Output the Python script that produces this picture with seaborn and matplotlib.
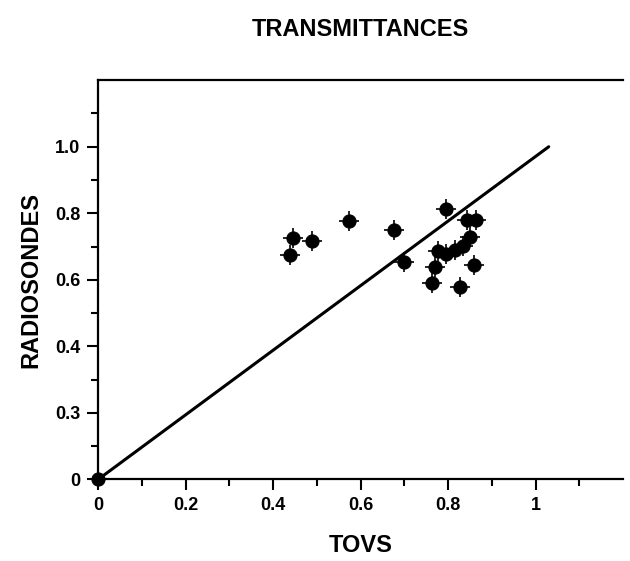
import numpy as np
import pandas as pd
import matplotlib
matplotlib.use("Agg")
import matplotlib.pyplot as plt
import seaborn as sns

# data
tovs = [0.0, 0.445, 0.438, 0.488, 0.573, 0.676, 0.699, 0.795, 0.843, 0.863,
        0.850, 0.834, 0.815, 0.795, 0.776, 0.770, 0.763, 0.827, 0.859]
radiosondes = [0.0, 0.727, 0.674, 0.716, 0.776, 0.749, 0.653, 0.812, 0.779, 0.779,
               0.728, 0.701, 0.689, 0.677, 0.686, 0.638, 0.590, 0.578, 0.644]
line_x = [0.0, 1.03]
line_y = [0.0, 1.0]
xticks = [0, 0.2, 0.4, 0.6, 0.8, 1.0]
xtick_labels = ["0", "0.2", "0.4", "0.6", "0.8", "1"]
yticks = [0, 0.2, 0.4, 0.6, 0.8, 1.0]
ytick_labels = ["0", "0.3", "0.4", "0.6", "0.8", "1.0"]

data = pd.DataFrame({"TOVS": tovs, "RADIOSONDES": radiosondes})

sns.set_style("ticks")
plt.rcParams['font.family'] = ['Liberation Sans', 'DejaVu Sans']
plt.rcParams['font.weight'] = 'bold'
plt.rcParams['text.color'] = 'black'
plt.rcParams['axes.labelcolor'] = 'black'
plt.rcParams['xtick.color'] = 'black'
plt.rcParams['ytick.color'] = 'black'

fig = plt.figure(figsize=(6.3, 5.61), dpi=100)
ax = fig.add_axes([0.156, 0.1456, 0.833, 0.7114])

ax.plot(line_x, line_y, color="black", linewidth=2.2, zorder=2)
sns.scatterplot(data=data, x="TOVS", y="RADIOSONDES", ax=ax, marker="+", s=190,
                color="black", linewidth=1.2, clip_on=False, zorder=3)
sns.scatterplot(data=data, x="TOVS", y="RADIOSONDES", ax=ax, marker="o", s=90,
                color="black", edgecolor="black", clip_on=False, zorder=4)

ax.set_xlim(0, 1.2)
ax.set_ylim(0, 1.2)
ax.set_xticks(xticks)
ax.set_xticklabels(xtick_labels)
ax.set_yticks(yticks)
ax.set_yticklabels(ytick_labels)
ax.set_xticks(np.arange(0.1, 1.15, 0.2), minor=True)
ax.set_yticks(np.arange(0.1, 1.15, 0.2), minor=True)
ax.tick_params(axis="both", which="major", length=8, width=1.5, labelsize=13, pad=5)
ax.tick_params(axis="both", which="minor", length=5, width=1.5)

for side in ["left", "bottom", "top"]:
    ax.spines[side].set_linewidth(1.6)
    ax.spines[side].set_color("black")
ax.spines["right"].set_visible(False)

ax.set_xlabel("TOVS", fontsize=17, fontweight="bold", labelpad=14)
ax.set_ylabel("RADIOSONDES", fontsize=17, fontweight="bold", labelpad=9)
ax.set_title("TRANSMITTANCES", fontsize=17, fontweight="bold", pad=32)

plt.savefig("out.png", dpi=100)
